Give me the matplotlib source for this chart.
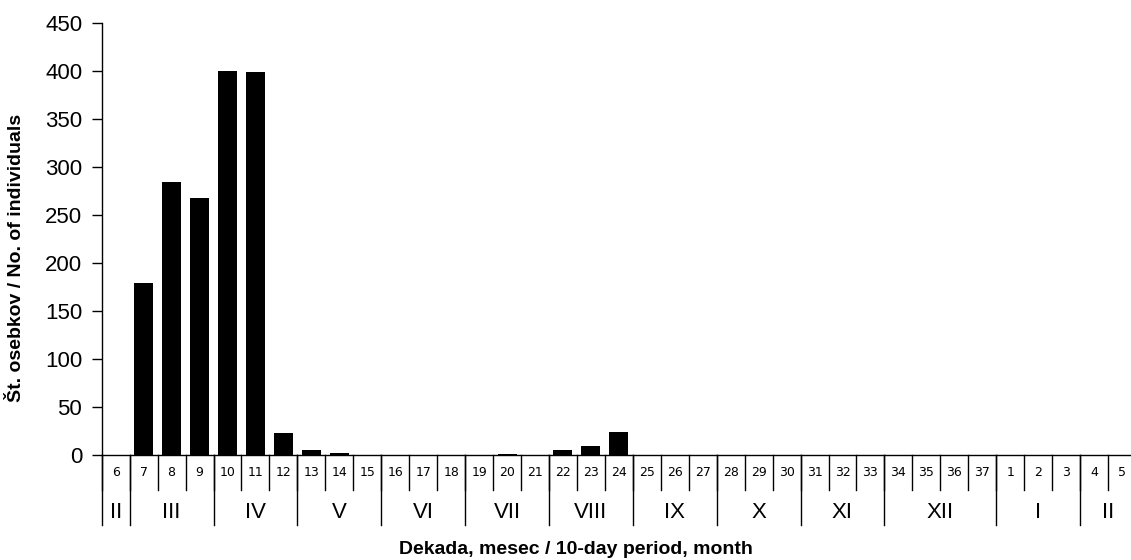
import matplotlib.pyplot as plt
import matplotlib.transforms as mtransforms

decades = [str(d) for d in range(6, 38)] + [str(d) for d in range(1, 6)]
counts = [0, 179, 284, 268, 400, 399, 23, 5, 2, 0,
          0, 0, 0, 0, 1, 0, 5, 9, 24, 0,
          0, 0, 0, 0, 0, 0, 0, 0, 0, 0,
          0, 0, 0, 0, 0, 0, 0]
months = ["II", "III", "IV", "V", "VI", "VII", "VIII", "IX", "X", "XI", "XII", "I", "II"]
month_sizes = [1, 3, 3, 3, 3, 3, 3, 3, 3, 3, 4, 3, 2]

plt.rcParams["font.family"] = ["Liberation Sans", "DejaVu Sans"]

fig = plt.figure(figsize=(11.31, 5.6), dpi=100)
ax = fig.add_axes([101.7 / 1131, 1 - 455 / 560, (1136 - 101.7) / 1131, 432 / 560])

x = list(range(len(decades)))
ax.bar(x, counts, width=0.68, color="black")

ax.set_xlim(-0.5, len(decades) - 0.5)
ax.set_ylim(0, 450)
ax.set_yticks(range(0, 451, 50))
ax.tick_params(axis="y", labelsize=16, length=7, width=1, pad=7)
ax.set_xticks([])
ax.spines["top"].set_visible(False)
ax.spines["right"].set_visible(False)
ax.spines["left"].set_linewidth(1)
ax.spines["bottom"].set_linewidth(1)

trans = mtransforms.blended_transform_factory(ax.transData, ax.transAxes)
row1 = -35 / 432
row2 = -70 / 432

# decade numbers and separators
for i, d in enumerate(decades):
    ax.text(i, -18 / 432, d, transform=trans, ha="center", va="center", fontsize=9,
            family=["DejaVu Sans"])
    ax.plot([i - 0.5, i - 0.5], [0, row1], transform=trans, color="black", lw=1,
            clip_on=False)

# month labels and separators
start = 0
for m, n in zip(months, month_sizes):
    ax.plot([start - 0.5, start - 0.5], [0, row2], transform=trans, color="black", lw=1,
            clip_on=False)
    ax.text(start + n / 2 - 0.5, -57 / 432, m, transform=trans, ha="center", va="center",
            fontsize=16)
    start += n

fig.text(576 / 1131, 1 - 550 / 560, "Dekada, mesec / 10-day period, month", ha="center",
         va="center", fontsize=14, fontweight="bold")
fig.text(17 / 1131, 1 - 258 / 560, "Št. osebkov / No. of individuals", ha="center",
         va="center", rotation=90, fontsize=14, fontweight="bold")

fig.savefig("out.png", dpi=100)
